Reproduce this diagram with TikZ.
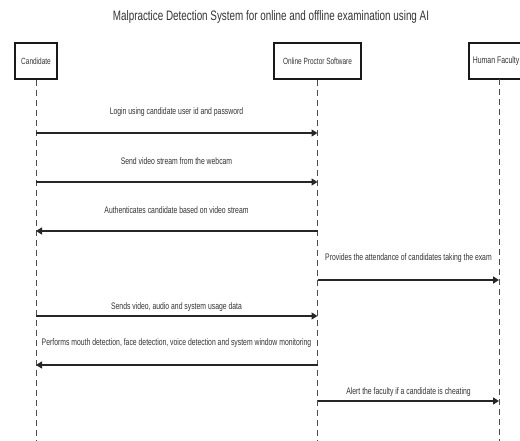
\documentclass[tikz,border=0pt]{standalone}
\usepackage{fontspec}
\setmainfont{Liberation Sans}[FakeStretch=0.72]
\usetikzlibrary{arrows.meta}
\begin{document}
\begin{tikzpicture}[x=1pt,y=-1pt,
  actor/.style={draw=black!90,line width=1.8pt,fill=white,minimum height=36pt,inner sep=0pt,font=\fontsize{9}{10}\selectfont,text=black!80},
  lifeline/.style={draw=black!70,line width=0.7pt,dash pattern=on 6pt off 4pt},
  msg/.style={draw=black!85,line width=1.3pt,-{Triangle[length=6pt,width=7pt]}},
  lbl/.style={font=\fontsize{9.5}{10}\selectfont,text=black!80,inner sep=0pt},
  ttl/.style={font=\fontsize{13.7}{15}\selectfont,text=black!80,inner sep=0pt}]
\useasboundingbox (0,0) rectangle (520,441);
\clip (0,0) rectangle (520,441);
\node[ttl] (title) at (271,17) {Malpractice Detection System for online and offline examination using AI};
\node[actor,minimum width=42pt] (cand) at (36,61) {Candidate};
\node[actor,minimum width=87pt] (proc) at (317.5,61) {Online Proctor Software};
\node[actor,inner xsep=4pt,anchor=west,font=\fontsize{9.6}{11}\selectfont] (fac) at (468,61) {Human Faculty};
\coordinate (facl) at (499,79);
\coordinate (candend) at (36,441);
\coordinate (procend) at (317.5,441);
\coordinate (facend) at (499,441);
\draw[lifeline] (cand.south) -- (candend);
\draw[lifeline] (proc.south) -- (procend);
\draw[lifeline] (facl) -- (facend);
% messages
\coordinate (c1) at (36,133); \coordinate (p1) at (317.5,133);
\coordinate (c2) at (36,182); \coordinate (p2) at (317.5,182);
\coordinate (c3) at (36,231); \coordinate (p3) at (317.5,231);
\coordinate (p4) at (317.5,280); \coordinate (f4) at (499,280);
\coordinate (c5) at (36,316); \coordinate (p5) at (317.5,316);
\coordinate (c6) at (36,365); \coordinate (p6) at (317.5,365);
\coordinate (p7) at (317.5,401); \coordinate (f7) at (499,401);
\draw[msg] (c1) -- (p1);
\draw[msg] (c2) -- (p2);
\draw[msg] (p3) -- (c3);
\draw[msg] (p4) -- (f4);
\draw[msg] (c5) -- (p5);
\draw[msg] (p6) -- (c6);
\draw[msg] (p7) -- (f7);
\node[lbl] (l1) at (176.5,112) {Login using candidate user id and password};
\node[lbl] (l2) at (176.5,161) {Send video stream from the webcam};
\node[lbl] (l3) at (176.5,210) {Authenticates candidate based on video stream};
\node[lbl] (l4) at (408.5,258) {Provides the attendance of candidates taking the exam};
\node[lbl] (l5) at (176.5,307) {Sends video, audio and system usage data};
\node[lbl] (l6) at (176.5,343) {Performs mouth detection, face detection, voice detection and system window monitoring};
\node[lbl] (l7) at (408.5,392) {Alert the faculty if a candidate is cheating};
\end{tikzpicture}
\end{document}
